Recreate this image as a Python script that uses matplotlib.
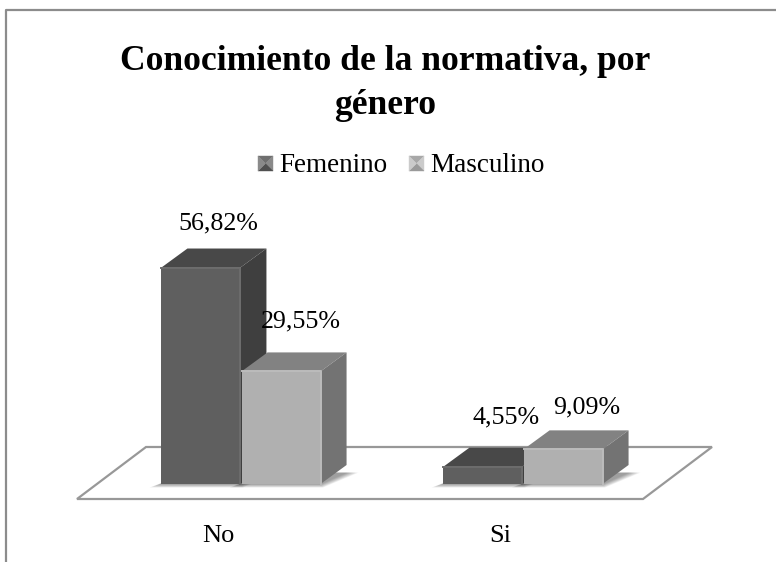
#!/usr/bin/env python3

import matplotlib
matplotlib.use('Agg')
import matplotlib.pyplot as plt
from matplotlib.patches import Polygon
from matplotlib.transforms import offset_copy
import numpy as np

categories = ["No", "Si"]
series_names = ["Femenino", "Masculino"]
femenino = [56.82, 4.55]
masculino = [29.55, 9.09]
value_labels = [["56,82%", "4,55%"], ["29,55%", "9,09%"]]

W, H = 776, 562
PX_PER_CAT = 282.0      # distance No -> Si
PX_PER_PCT = 3.81
ORIGIN_X, ORIGIN_Y = 241.0, 484.0   # pixel of category 0, value 0
BAR_W = 79 / PX_PER_CAT
DEPTH_X = 26 / PX_PER_CAT
DEPTH_Y = 19 / PX_PER_PCT

FRONT = ["#5f5f5f", "#b0b0b0"]
TOP = ["#484848", "#828282"]
SIDE = ["#3f3f3f", "#737373"]
EDGE = ["#6c6c6c", "#bcbcbc"]
LINE = "#989898"
SERIF = "Liberation Serif"


def px(x, y):
    return (x - ORIGIN_X) / PX_PER_CAT, (ORIGIN_Y - y) / PX_PER_PCT


def draw_shadow(ax, left, right):
    # soft shadow on the floor, stacked see-through polygons
    for grow in np.linspace(12, 1, 8):
        gx, gy = grow / PX_PER_CAT, grow * 0.3 / PX_PER_PCT
        pts = [(left - gx, -gy), (right + gx * 0.2, -gy),
               (right + DEPTH_X + gx, DEPTH_Y * 0.6), (left + DEPTH_X, DEPTH_Y * 0.6)]
        ax.add_patch(Polygon(pts, closed=True, fc="#000000", ec="none", alpha=0.055, zorder=2))


def draw_bars(ax, offsets, values, idx):
    lefts = np.arange(len(values)) + offsets
    for left, val in zip(lefts, values):
        draw_shadow(ax, left, left + BAR_W)
    for left, val in zip(lefts, values):
        right = left + BAR_W
        top = [(left, val), (right, val), (right + DEPTH_X, val + DEPTH_Y), (left + DEPTH_X, val + DEPTH_Y)]
        side = [(right, 0), (right + DEPTH_X, DEPTH_Y), (right + DEPTH_X, val + DEPTH_Y), (right, val)]
        ax.add_patch(Polygon(top, closed=True, fc=TOP[idx], ec="none", zorder=3 + idx))
        ax.add_patch(Polygon(side, closed=True, fc=SIDE[idx], ec="none", zorder=3 + idx))
    ax.bar(lefts, values, width=BAR_W, align="edge", color=FRONT[idx], edgecolor="none", zorder=4 + idx)
    # light bevel along top and right of the front face
    for left, val in zip(lefts, values):
        right = left + BAR_W
        ax.plot([left, right, right], [val, val, 0], color=EDGE[idx], lw=1.4, zorder=4 + idx,
                solid_joinstyle="round")


def legend_key(ax, x, y, size, shades):
    x0, y0 = px(x, y)
    x1, y1 = px(x + size, y + size)
    mid = ((x0 + x1) / 2, (y0 + y1) / 2)
    corners = [(x0, y0), (x1, y0), (x1, y1), (x0, y1)]
    for i in range(4):
        ax.add_patch(Polygon([corners[i], corners[(i + 1) % 4], mid], closed=True,
                             fc=shades[i], ec=shades[i], lw=0.3, zorder=5))


def main():
    fig = plt.figure(figsize=(W / 100, H / 100), dpi=100)
    ax = fig.add_axes([0, 0, 1, 1])
    ax.set_xlim(px(0, 0)[0], px(W, 0)[0])
    ax.set_ylim(px(0, H)[1], px(0, 0)[1])
    ax.axis("off")

    # chart frame, only top and left show in the crop
    ax.plot(*zip(px(6.5, H), px(6.5, 9.5), px(W, 9.5)), color="#8c8c8c", lw=1.6, zorder=1)

    # floor
    floor = [px(77, 499), px(146, 447), px(712, 447), px(643, 499)]
    ax.add_patch(Polygon(floor, closed=True, fc="white", ec=LINE, lw=1.6, zorder=1))

    draw_bars(ax, -BAR_W - 0.002, femenino, 0)
    draw_bars(ax, 0.002, masculino, 1)

    # value labels, nudged like the original layout
    nudges = [[(17, 38), (23, 43)], [(20, 44), (24, 36)]]
    for s, (values, offset) in enumerate(zip([femenino, masculino], [-BAR_W / 2, BAR_W / 2])):
        for c, val in enumerate(values):
            trans = offset_copy(ax.transData, fig=fig, x=nudges[s][c][0], y=nudges[s][c][1], units="dots")
            ax.text(c + offset, val, value_labels[s][c], transform=trans, ha="center", va="baseline",
                    family=SERIF, fontsize=18.7, color="black", zorder=8)

    # category labels sit left of the bars
    for c, name in enumerate(categories):
        trans = offset_copy(ax.transData, fig=fig, x=-22.5, y=-58, units="dots")
        ax.text(c, 0, name, transform=trans, ha="center", va="baseline",
                family=SERIF, fontsize=19, color="black")

    # legend
    legend_key(ax, 258, 156, 15, ["#6f6f6f", "#8a8a8a", "#505050", "#8a8a8a"])
    legend_key(ax, 409, 156, 15, ["#a8a8a8", "#cbcbcb", "#9a9a9a", "#cbcbcb"])
    ax.text(*px(279, 172), series_names[0], family=SERIF, fontsize=19.5, va="baseline", ha="left")
    ax.text(*px(430, 172), series_names[1], family=SERIF, fontsize=19.5, va="baseline", ha="left")

    # title
    title_font = dict(family=SERIF, fontsize=25.6, fontweight="bold", va="baseline", ha="center")
    ax.text(*px(385, 70), "Conocimiento de la normativa, por", **title_font)
    ax.text(*px(385, 114), "género", **title_font)

    fig.savefig("out.png", dpi=100)
    plt.close(fig)


if __name__ == "__main__":
    main()
